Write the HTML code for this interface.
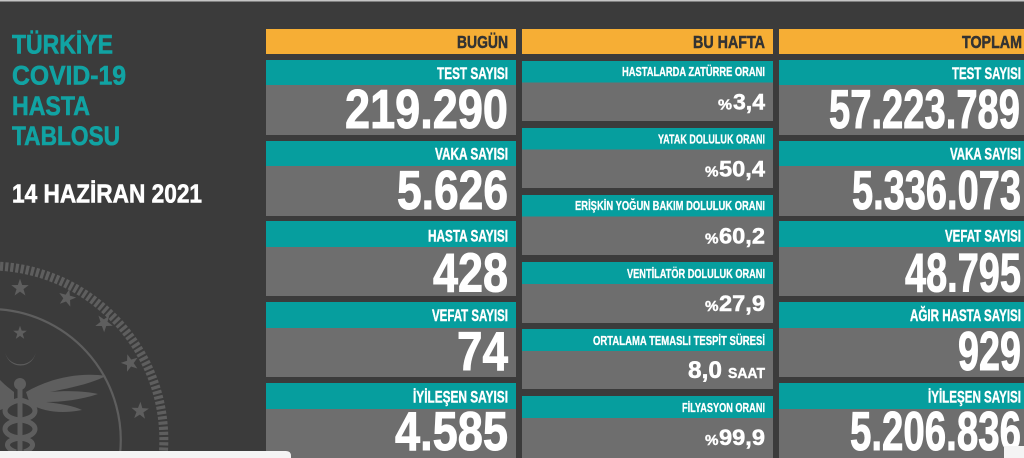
<!DOCTYPE html>
<html><head><meta charset="utf-8"><style>
html,body{margin:0;padding:0;background:#3b3b3b;width:1024px;height:458px;overflow:hidden;}
svg{display:block;}
text{font-family:"Liberation Sans","DejaVu Sans",sans-serif;font-weight:bold;}
</style></head><body>
<svg width="1024" height="458" viewBox="0 0 1024 458" xmlns="http://www.w3.org/2000/svg">
<rect x="0" y="0" width="1024" height="458" fill="#3b3b3b"/>
<rect x="0" y="0" width="1024" height="1.5" fill="#c4c4c4"/>

<!-- seal -->
<g fill="#5e5e5e" stroke="none">
  <path d="M0,266.3 A174,174 0 0,1 163.1,456" fill="none" stroke="#5e5e5e" stroke-width="9" stroke-dasharray="3.2 2"/>
  <path d="M0,309.4 A131,131 0 0,1 119.8,456" fill="none" stroke="#5e5e5e" stroke-width="2.2"/>
  <g transform="translate(20,288) scale(1.15)"><path d="M0,-8 L1.88,-2.59 L7.61,-2.47 L3.04,0.99 L4.7,6.47 L0,3.2 L-4.7,6.47 L-3.04,0.99 L-7.61,-2.47 L-1.88,-2.59Z"/></g>
  <g transform="translate(67,298) rotate(15) scale(1.15)"><path d="M0,-8 L1.88,-2.59 L7.61,-2.47 L3.04,0.99 L4.7,6.47 L0,3.2 L-4.7,6.47 L-3.04,0.99 L-7.61,-2.47 L-1.88,-2.59Z"/></g>
  <g transform="translate(104,323) rotate(35) scale(1.15)"><path d="M0,-8 L1.88,-2.59 L7.61,-2.47 L3.04,0.99 L4.7,6.47 L0,3.2 L-4.7,6.47 L-3.04,0.99 L-7.61,-2.47 L-1.88,-2.59Z"/></g>
  <g transform="translate(130,363) rotate(55) scale(1.15)"><path d="M0,-8 L1.88,-2.59 L7.61,-2.47 L3.04,0.99 L4.7,6.47 L0,3.2 L-4.7,6.47 L-3.04,0.99 L-7.61,-2.47 L-1.88,-2.59Z"/></g>
  <g transform="translate(140,411) rotate(75) scale(1.15)"><path d="M0,-8 L1.88,-2.59 L7.61,-2.47 L3.04,0.99 L4.7,6.47 L0,3.2 L-4.7,6.47 L-3.04,0.99 L-7.61,-2.47 L-1.88,-2.59Z"/></g>
  <g transform="translate(20,333) scale(0.9)"><path d="M0,-8 L1.88,-2.59 L7.61,-2.47 L3.04,0.99 L4.7,6.47 L0,3.2 L-4.7,6.47 L-3.04,0.99 L-7.61,-2.47 L-1.88,-2.59Z"/></g>
  <path d="M5,350 A15,15 0 1,0 36,350 A13,12 0 1,1 5,350Z"/>
  <rect x="17.5" y="385" width="5" height="70"/>
  <circle cx="20" cy="384" r="6"/>
  <path d="M26,392 C50,378 80,372 106,376 C90,384 70,388 50,392 C72,390 88,392 98,394 C80,400 62,402 46,402 C62,404 74,406 82,410 C62,414 44,412 30,404Z"/>
  <path d="M14,392 C6,386 2,382 0,380 L0,410 C4,409 8,406 14,400Z"/>
  <path d="M20,400 C40,404 40,418 20,420 C0,422 0,436 20,438 C36,440 36,448 24,452" fill="none" stroke="#5e5e5e" stroke-width="5"/>
  <path d="M20,400 C0,404 0,418 20,420 C40,422 40,436 20,438 C4,440 4,448 16,452" fill="none" stroke="#5e5e5e" stroke-width="5"/>
</g>

<!-- title -->
<g fill="#11a3a3" stroke="#11a3a3" stroke-width="0.6" font-size="27">
  <text x="12" y="53.5" textLength="101" lengthAdjust="spacingAndGlyphs">TÜRKİYE</text>
  <text x="12" y="84.5" textLength="114" lengthAdjust="spacingAndGlyphs">COVID-19</text>
  <text x="12" y="115" textLength="78" lengthAdjust="spacingAndGlyphs">HASTA</text>
  <text x="12" y="145" textLength="108" lengthAdjust="spacingAndGlyphs">TABLOSU</text>
</g>
<text x="12" y="202.5" font-size="25.5" fill="#ffffff" stroke="#ffffff" stroke-width="0.6" textLength="190" lengthAdjust="spacingAndGlyphs">14 HAZİRAN 2021</text>

<!-- headers -->
<rect x="266" y="29" width="250" height="25" fill="#f6ae35"/>
<rect x="522" y="29" width="251" height="25" fill="#f6ae35"/>
<rect x="779" y="29" width="245" height="25" fill="#f6ae35"/>
<g fill="#333333" stroke="#333333" stroke-width="0.5" font-size="17.5">
  <text x="457" y="48" textLength="51" lengthAdjust="spacingAndGlyphs">BUGÜN</text>
  <text x="693" y="48" textLength="72" lengthAdjust="spacingAndGlyphs">BU HAFTA</text>
  <text x="962" y="48" textLength="60" lengthAdjust="spacingAndGlyphs">TOPLAM</text>
</g>

<!-- BUGÜN & TOPLAM cells -->
<g fill="#069e9e">
  <rect x="266" y="60" width="250" height="25"/>
  <rect x="266" y="141" width="250" height="25"/>
  <rect x="266" y="221" width="250" height="26"/>
  <rect x="266" y="302" width="250" height="26"/>
  <rect x="266" y="383" width="250" height="26"/>
  <rect x="779" y="60" width="245" height="25"/>
  <rect x="779" y="141" width="245" height="25"/>
  <rect x="779" y="221" width="245" height="26"/>
  <rect x="779" y="302" width="245" height="26"/>
  <rect x="779" y="383" width="245" height="26"/>
</g>
<g fill="#6e6e6e">
  <rect x="266" y="85" width="250" height="50"/>
  <rect x="266" y="166" width="250" height="50"/>
  <rect x="266" y="247" width="250" height="49"/>
  <rect x="266" y="328" width="250" height="49"/>
  <rect x="266" y="409" width="250" height="49"/>
  <rect x="779" y="85" width="245" height="50"/>
  <rect x="779" y="166" width="245" height="50"/>
  <rect x="779" y="247" width="245" height="49"/>
  <rect x="779" y="328" width="245" height="49"/>
  <rect x="779" y="409" width="245" height="49"/>
</g>

<!-- BU HAFTA cells -->
<g fill="#069e9e">
  <rect x="522" y="61" width="251" height="21.5"/>
  <rect x="522" y="128" width="251" height="21.5"/>
  <rect x="522" y="195" width="251" height="21.5"/>
  <rect x="522" y="262" width="251" height="22"/>
  <rect x="522" y="329" width="251" height="22"/>
  <rect x="522" y="396" width="251" height="22"/>
</g>
<g fill="#6e6e6e">
  <rect x="522" y="82.5" width="251" height="38.5"/>
  <rect x="522" y="149.5" width="251" height="38.5"/>
  <rect x="522" y="216.5" width="251" height="38.5"/>
  <rect x="522" y="284" width="251" height="39"/>
  <rect x="522" y="351" width="251" height="38"/>
  <rect x="522" y="418" width="251" height="40"/>
</g>

<!-- labels -->
<g fill="#ffffff" stroke="#ffffff" stroke-width="0.4" font-size="16.5">
  <text x="437" y="79" textLength="71" lengthAdjust="spacingAndGlyphs">TEST SAYISI</text>
  <text x="435" y="159.5" textLength="73" lengthAdjust="spacingAndGlyphs">VAKA SAYISI</text>
  <text x="428" y="241.5" textLength="80" lengthAdjust="spacingAndGlyphs">HASTA SAYISI</text>
  <text x="432" y="321" textLength="76" lengthAdjust="spacingAndGlyphs">VEFAT SAYISI</text>
  <text x="413" y="402.5" textLength="95" lengthAdjust="spacingAndGlyphs">İYİLEŞEN SAYISI</text>
  <text x="952" y="79" textLength="69" lengthAdjust="spacingAndGlyphs">TEST SAYISI</text>
  <text x="950" y="159.5" textLength="71" lengthAdjust="spacingAndGlyphs">VAKA SAYISI</text>
  <text x="945" y="241.5" textLength="76" lengthAdjust="spacingAndGlyphs">VEFAT SAYISI</text>
  <text x="910" y="321" textLength="111" lengthAdjust="spacingAndGlyphs">AĞIR HASTA SAYISI</text>
  <text x="928" y="402.5" textLength="93" lengthAdjust="spacingAndGlyphs">İYİLEŞEN SAYISI</text>
</g>
<g fill="#ffffff" stroke="#ffffff" stroke-width="1" font-size="55">
  <text x="345" y="128" textLength="163" lengthAdjust="spacingAndGlyphs">219.290</text>
  <text x="397" y="209" textLength="111" lengthAdjust="spacingAndGlyphs">5.626</text>
  <text x="433" y="291.5" textLength="75" lengthAdjust="spacingAndGlyphs">428</text>
  <text x="457" y="370" textLength="51" lengthAdjust="spacingAndGlyphs">74</text>
  <text x="395" y="450" textLength="113" lengthAdjust="spacingAndGlyphs">4.585</text>
  <text x="829" y="128" textLength="191" lengthAdjust="spacingAndGlyphs">57.223.789</text>
  <text x="852" y="209" textLength="169" lengthAdjust="spacingAndGlyphs">5.336.073</text>
  <text x="905" y="291.5" textLength="116" lengthAdjust="spacingAndGlyphs">48.795</text>
  <text x="958" y="370" textLength="63" lengthAdjust="spacingAndGlyphs">929</text>
  <text x="850" y="450" textLength="171" lengthAdjust="spacingAndGlyphs">5.206.836</text>
</g>

<g fill="#ffffff" stroke="#ffffff" stroke-width="0.3" font-size="13">
  <text x="622" y="76" textLength="143" lengthAdjust="spacingAndGlyphs">HASTALARDA ZATÜRRE ORANI</text>
  <text x="658" y="143.5" textLength="107" lengthAdjust="spacingAndGlyphs">YATAK DOLULUK ORANI</text>
  <text x="575" y="210" textLength="190" lengthAdjust="spacingAndGlyphs">ERİŞKİN YOĞUN BAKIM DOLULUK ORANI</text>
  <text x="627" y="278" textLength="138" lengthAdjust="spacingAndGlyphs">VENTİLATÖR DOLULUK ORANI</text>
  <text x="593" y="345" textLength="172" lengthAdjust="spacingAndGlyphs">ORTALAMA TEMASLI TESPİT SÜRESİ</text>
  <text x="682" y="412" textLength="83" lengthAdjust="spacingAndGlyphs">FİLYASYON ORANI</text>
</g>
<g fill="#ffffff" stroke="#ffffff" stroke-width="0.4" font-size="15">
  <text x="718" y="109.5" textLength="14" lengthAdjust="spacingAndGlyphs">%</text>
  <text x="705" y="176.5" textLength="13.5" lengthAdjust="spacingAndGlyphs">%</text>
  <text x="705" y="243.5" textLength="13.5" lengthAdjust="spacingAndGlyphs">%</text>
  <text x="705" y="311" textLength="13.5" lengthAdjust="spacingAndGlyphs">%</text>
  <text x="705" y="445" textLength="13.5" lengthAdjust="spacingAndGlyphs">%</text>
  <text x="728" y="378" textLength="37" lengthAdjust="spacingAndGlyphs">SAAT</text>
</g>
<g fill="#ffffff" stroke="#ffffff" stroke-width="0.5" font-size="22.5">
  <text x="733" y="109.5" textLength="32" lengthAdjust="spacingAndGlyphs">3,4</text>
  <text x="719" y="176.5" textLength="46" lengthAdjust="spacingAndGlyphs">50,4</text>
  <text x="719" y="243.5" textLength="46" lengthAdjust="spacingAndGlyphs">60,2</text>
  <text x="719" y="311" textLength="46" lengthAdjust="spacingAndGlyphs">27,9</text>
  <text x="719" y="445" textLength="46" lengthAdjust="spacingAndGlyphs">99,9</text>
</g>
<text x="688" y="378" font-size="24" fill="#ffffff" stroke="#ffffff" stroke-width="0.5" textLength="34" lengthAdjust="spacingAndGlyphs">8,0</text>

<!-- overlays at bottom -->
<path d="M0,451 L286,451 Q291,451 291,456 L291,458 L0,458Z" fill="#f4f4f4"/>
<rect x="1004" y="446" width="20" height="12" fill="#f4f4f4"/>
</svg>
</body></html>
